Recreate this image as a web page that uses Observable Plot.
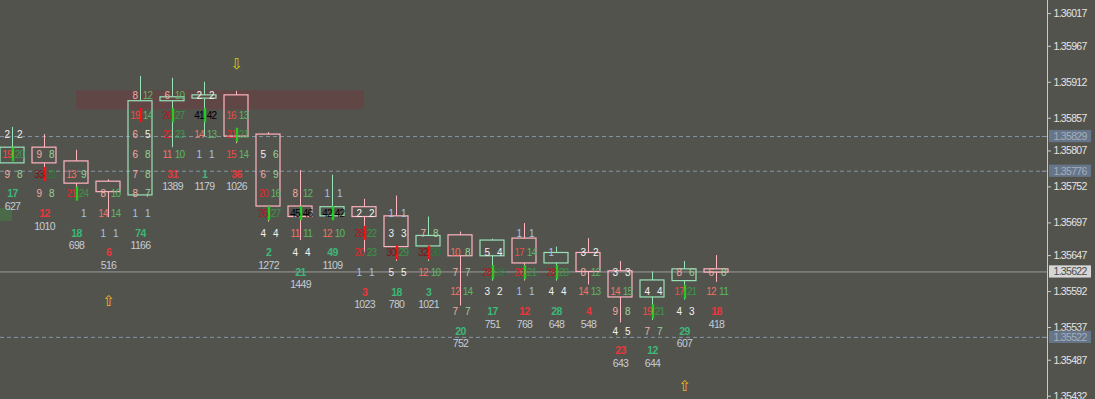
<!DOCTYPE html>
<html><head><meta charset="utf-8">
<script src="https://cdn.jsdelivr.net/npm/d3@7"></script>
<script src="https://cdn.jsdelivr.net/npm/@observablehq/plot@0.6"></script>
<style>
html,body{margin:0;padding:0;background:#53534D;overflow:hidden;width:1095px;height:399px}
svg{display:block}
svg text{letter-spacing:-0.7px}
</style></head><body><div id="chart"></div>
<script>
// ---- data ----
const opens  = [1.35788,1.35812,1.35791,1.35760,1.35739,1.35883,1.35887,1.35892,1.35832,1.35722,1.35707,1.35721,1.35707,1.35661,1.35678,1.35646,1.35673,1.35635,1.35651,1.35623,1.35583,1.35608,1.35626];
const highs  = [1.35843,1.35832,1.35808,1.35763,1.35921,1.35918,1.35912,1.35898,1.35835,1.35777,1.35770,1.35733,1.35738,1.35706,1.35683,1.35672,1.35696,1.35660,1.35673,1.35638,1.35622,1.35638,1.35647];
const lows   = [1.35788,1.35762,1.35731,1.35705,1.35739,1.35812,1.35829,1.35818,1.35698,1.35670,1.35707,1.35652,1.35638,1.35638,1.35570,1.35608,1.35608,1.35608,1.35602,1.35544,1.35548,1.35579,1.35606];
const closes = [1.35812,1.35788,1.35757,1.35744,1.35883,1.35889,1.35892,1.35829,1.35722,1.35706,1.35721,1.35706,1.35660,1.35677,1.35646,1.35670,1.35635,1.35651,1.35622,1.35583,1.35609,1.35626,1.35621];
const topRow = [1.35831,1.35801,1.35771,1.35741,1.35891,1.35891,1.35891,1.35861,1.35801,1.35741,1.35741,1.35711,1.35711,1.35681,1.35651,1.35651,1.35681,1.35651,1.35651,1.35621,1.35591,1.35621,1.35621];
const rowStep = 0.0003;
const bids = [[2,19,9],[9,33,9],[13,21,0],[8,14,1],[8,19,6,6,7,8,1],[6,26,22,11],[2,41,14,1],[16,21,15],[5,6,20,26,4],[8,45,11,4],[1,42,12],[2,28,20,1],[1,3,30,5],[7,32,12],[10,7,12,7],[5,28,3],[1,17,20,1],[1,28,4],[3,8,14],[3,14,9,4],[4,19,7],[8,17,4],[6,12]];
const asks = [[2,20,8],[8,31,8],[9,24,1],[10,14,1],[12,14,5,8,8,7,1],[10,27,23,10],[2,42,13,1],[13,21,14],[6,9,16,27,4],[12,46,11,4],[1,42,10],[2,22,23,1],[1,3,29,5],[8,30,10],[8,7,14,7],[4,30,2],[1,14,21,1],[0,28,4],[2,12,13],[3,15,8,5],[4,21,7],[6,21,3],[8,11]];
const deltas  = [17,-12,18,-6,74,-31,1,-36,2,21,49,-3,18,3,20,17,-12,28,-4,-23,12,29,-18];
const volumes = [627,1010,698,516,1166,1389,1179,1026,1272,1449,1109,1023,780,1021,752,751,768,648,548,643,644,607,418];

const zoneFrom = [2, -1], zoneTo = [11, 0], zoneHigh = [1.35899, 1.35719], zoneLow = [1.35870, 1.35699], zoneKind = ["supply","demand"];
const arrowCandle = [7, 3, 21], arrowPrice = [1.35939, 1.35577, 1.35447], arrowDir = ["down","up","up"];
const dashedLevels = [1.35829, 1.35776, 1.35522];
const currentPrice = 1.35622;
const axisTicks = [1.36017,1.35967,1.35912,1.35857,1.35807,1.35752,1.35697,1.35647,1.35592,1.35537,1.35487,1.35432];

// ---- derived tables ----
const candles = opens.map((o,i)=>({i, o, h:highs[i], l:lows[i], c:closes[i], up: closes[i] >= o}));
const rows = [];
bids.forEach((bs,i)=>bs.forEach((b,k)=>rows.push({i, price: topRow[i]-rowStep*k, bid:b, ask:asks[i][k]})));
const stats = deltas.map((d,i)=>({i, delta:d, vol:volumes[i], price: topRow[i]-rowStep*bids[i].length}));
const pocs = [];
bids.forEach((bs,i)=>{
  let best=-1, bk=0;
  bs.forEach((b,k)=>{const t=b+asks[i][k]; if(t>best){best=t;bk=k;}});
  if(best>=30) pocs.push({i, price: topRow[i]-rowStep*bk, sell: bs[bk] > asks[i][bk]});
});
const zones = zoneFrom.map((f,j)=>({x1:f, x2:zoneTo[j], y1:zoneLow[j], y2:zoneHigh[j], kind:zoneKind[j]}));
const arrows = arrowCandle.map((c,j)=>({i:c, price:arrowPrice[j], dir:arrowDir[j]}));
const levels = dashedLevels.map(p=>({price:p, current:false})).concat([{price:currentPrice, current:true}]);

function bidColor(v){ if(v>=40) return "#000000"; if(v>=30) return "#7c1515"; if(v>=25) return "#a81c1c"; if(v>=20) return "#e02626"; if(v>=15) return "#f24a40"; if(v>=10) return "#f07264"; if(v>=6) return "#f2aca4"; if(v>=2) return "#f4eeee"; return "#9ec4ea"; }
function askColor(v){ if(v>=40) return "#000000"; if(v>=30) return "#2b7a3a"; if(v>=20) return "#3c9648"; if(v>=10) return "#5cb860"; if(v>=6) return "#9ad29a"; if(v>=2) return "#eef4ee"; return "#9ec4ea"; }

const PINK = "#ffb4c0", MINT = "#98e2b8";
const xMax = 32.34375;
const fmt = d3.format(".5f");
const barHalf = 0.000107, labelHalf = 0.0000935;
const cellFont = "'Liberation Sans',Arial,sans-serif";

const plot = Plot.plot({
  width: 1095, height: 399,
  marginLeft: 0, marginRight: 48, marginTop: 0, marginBottom: 0,
  x: {type: "linear", domain: [-0.375, xMax], axis: null},
  y: {type: "linear", domain: [1.35427, 1.36037], axis: null},
  style: {background: "#53534D", fontFamily: cellFont, fontSize: "10px", color: "#e2e2e2"},
  marks: [
    Plot.rect(zones, {x1:"x1", x2:"x2", y1:"y1", y2:"y2", fill: d=>d.kind==="supply" ? "#614646" : "#4b6a4a"}),
    Plot.ruleY(dashedLevels, {y: d=>d, x1: -0.375, x2: xMax, stroke: "#8496aa", strokeDasharray: "4,3"}),
    Plot.ruleY([currentPrice], {y: d=>d, x1: -0.375, x2: xMax, stroke: "#9c9c9c"}),
    // wicks
    Plot.ruleX(candles, {x:"i", y1:"h", y2: d=>Math.max(d.o,d.c), stroke: d=>d.up?MINT:PINK}),
    Plot.ruleX(candles, {x:"i", y1: d=>Math.min(d.o,d.c), y2:"l", stroke: d=>d.up?MINT:PINK}),
    // bodies
    Plot.rect(candles, {x1: d=>d.i-0.375, x2: d=>d.i+0.375, y1:"o", y2:"c", fill:"none", stroke: d=>d.up?MINT:PINK, strokeWidth: 1.2}),
    // POC bars
    Plot.ruleX(pocs, {x:"i", y1: d=>d.price+barHalf, y2: d=>d.price-barHalf, stroke: d=>d.sell?"#ff1010":"#22cc22", strokeWidth: 2.4, dx: 0.5}),
    // cell texts
    Plot.text(rows.filter(r=>r.bid>0), {x:"i", y:"price", text: d=>String(d.bid), dx:-5.5, fill: d=>bidColor(d.bid), fontSize: 10, fontFamily: cellFont}),
    Plot.text(rows.filter(r=>r.ask>0), {x:"i", y:"price", text: d=>String(d.ask), dx:7, fill: d=>askColor(d.ask), fontSize: 10, fontFamily: cellFont}),
    // delta & volume
    Plot.text(stats, {x:"i", y:"price", text: d=>String(Math.abs(d.delta)), fill: d=>d.delta>=0?"#3cb878":"#e8363c", fontWeight:"bold", fontSize: 10.5, fontFamily: cellFont}),
    Plot.text(stats, {x:"i", y:"price", text: d=>String(d.vol), dy: 12.5, fill: "#c6ccd4", fontSize: 10.5, fontFamily: cellFont}),
    // arrows
    Plot.text(arrows, {x:"i", y:"price", text: d=>d.dir==="up"?"\u21E7":"\u21E9", fill: d=>d.dir==="up"?"#f2b21c":"#cccc10", fontSize: 15, fontFamily: "DejaVu Sans"}),
    // axis
    Plot.ruleX([xMax], {x: d=>d, stroke: "#c8c8c8"}),
    Plot.axisY({anchor: "right", ticks: axisTicks, tickFormat: fmt, tickSize: 3, tickPadding: 3, stroke: "#c8c8c8", fill: "#e4e4e4", fontSize: 10.5, fontFamily: cellFont}),
    // price labels
    Plot.rect(levels, {x1: xMax, x2: xMax, y1: d=>d.price-labelHalf, y2: d=>d.price+labelHalf, insetLeft: 2, insetRight: -44, fill: d=>d.current?"#d6d6d6":"#66768a"}),
    Plot.ruleY(levels.filter(d=>!d.current), {y:"price", x1: xMax-0.16, x2: xMax-0.07, stroke:"#8496aa"}),
    Plot.text(levels, {x: xMax, y:"price", text: d=>fmt(d.price), dx: 6, textAnchor: "start", fill: d=>d.current?"#4a4a4a":"#a4aebb", fontSize: 10.5, fontFamily: cellFont})
  ]
});
document.getElementById("chart").appendChild(plot);
</script>
</body></html>
